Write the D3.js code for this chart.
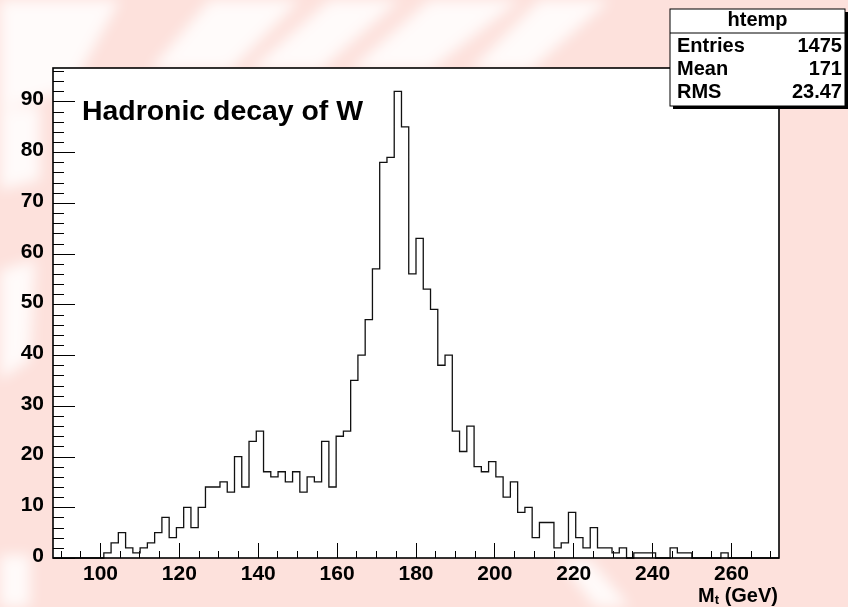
<!doctype html>
<html lang="en">
<head>
  <meta charset="utf-8">
  <title>htemp</title>
<style>
 body{
   margin: 0;
   background-color: #fde1dc;
 }
 svg{
   display: block;
 }
 .axis text{
   font-family: "Liberation Sans", Arial, sans-serif;
   font-weight: bold;
   font-size: 21px;
   fill: #000;
 }
 .axis line{
   stroke: #000;
   stroke-width: 1;
   shape-rendering: crispEdges;
 }
 .bold{
   font-family: "Liberation Sans", Arial, sans-serif;
   font-weight: bold;
   fill: #000;
 }
</style>
</head>
<body>

<div id="chart"></div>

<script src="https://d3js.org/d3.v7.min.js"></script>
<script type="text/javascript">

  // 100 bins of M_t, entries per bin
  var counts = [
    0, 0, 0, 0, 0, 0, 0, 1, 3, 5,
    2, 1, 2, 3, 5, 8, 4, 6, 10, 6,
    10, 14, 14, 15, 13, 20, 14, 23, 25, 17,
    16, 17, 15, 17, 13, 16, 15, 23, 14, 24,
    25, 35, 40, 47, 57, 78, 79, 92, 85, 56,
    63, 53, 49, 38, 40, 25, 21, 26, 18, 17,
    19, 16, 12, 15, 9, 10, 4, 7, 7, 2,
    3, 9, 4, 2, 6, 2, 2, 1, 2, 0,
    1, 1, 1, 0, 0, 2, 1, 1, 0, 0,
    0, 0, 1, 0, 0, 0, 0, 0, 0, 0
  ];
  var xRange = [88.08, 272.17];
  var yRange = [0, 96.6];
  var xMajor = [100, 120, 140, 160, 180, 200, 220, 240, 260];
  var xMinor = d3.range(90, 275, 5);
  var yMajor = [0, 10, 20, 30, 40, 50, 60, 70, 80, 90];
  var yMinor = d3.range(0, 97, 2);
  var statsTitle = 'htemp';
  var statsLabels = ['Entries', 'Mean', 'RMS'];
  var statsValues = ['1475', '171', '23.47'];

  var width = 848;
  var height = 607;
  var frame = { left: 53, right: 779, top: 68, bottom: 558 };

  var svg = d3.select('#chart')
    .append('svg')
    .attr('width', width)
    .attr('height', height);

  // background: pink canvas with soft white streaks
  var defs = svg.append('defs');
  defs.append('filter').attr('id', 'blur')
    .attr('x', '-20%').attr('y', '-20%').attr('width', '140%').attr('height', '140%')
    .append('feGaussianBlur').attr('stdDeviation', 7);

  svg.append('rect')
    .attr('width', width).attr('height', height)
    .attr('fill', '#fde1dc');

  var streaks = [
    [[0, 0], [120, 0], [70, 90], [0, 110]],
    [[210, 0], [300, 0], [230, 70], [150, 70]],
    [[330, 0], [400, 0], [320, 70], [250, 70]],
    [[430, 0], [520, 0], [430, 70], [350, 70]],
    [[540, 0], [610, 0], [530, 70], [470, 70]],
    [[0, 110], [40, 105], [40, 180], [0, 190]],
    [[0, 270], [35, 260], [30, 360], [0, 380]],
    [[0, 555], [30, 555], [30, 607], [0, 607]],
    [[560, 560], [590, 560], [630, 607], [595, 607]]
  ];
  svg.append('g')
    .attr('filter', 'url(#blur)')
    .selectAll('path')
    .data(streaks)
    .enter()
    .append('path')
    .attr('d', function(d){ return 'M' + d.join('L') + 'Z'; })
    .attr('fill', '#ffffff')
    .attr('opacity', 0.85);

  // frame
  svg.append('rect')
    .attr('x', frame.left).attr('y', frame.top)
    .attr('width', frame.right - frame.left)
    .attr('height', frame.bottom - frame.top)
    .attr('fill', '#fff');

  var xscale = d3.scaleLinear()
    .domain(xRange)
    .range([frame.left, frame.right]);

  var yscale = d3.scaleLinear()
    .domain(yRange)
    .range([frame.bottom, frame.top]);

  var tickX = 0.03 * (frame.bottom - frame.top);
  var tickY = 0.03 * (frame.right - frame.left);

  // minor ticks
  svg.append('g')
    .attr('class', 'axis')
    .attr('transform', 'translate(0,' + frame.bottom + ')')
    .call(d3.axisBottom(xscale).tickValues(xMinor).tickSizeInner(-tickX / 2).tickSizeOuter(0).tickFormat(''))
    .call(function(g){ g.select('.domain').remove(); });

  svg.append('g')
    .attr('class', 'axis')
    .attr('transform', 'translate(' + frame.left + ',0)')
    .call(d3.axisLeft(yscale).tickValues(yMinor).tickSizeInner(-tickY / 2).tickSizeOuter(0).tickFormat(''))
    .call(function(g){ g.select('.domain').remove(); });

  // major ticks with labels
  svg.append('g')
    .attr('class', 'axis')
    .attr('transform', 'translate(0,' + frame.bottom + ')')
    .call(d3.axisBottom(xscale).tickValues(xMajor).tickSizeInner(-tickX).tickSizeOuter(0).tickPadding(7))
    .call(function(g){ g.select('.domain').remove(); });

  var yaxis = svg.append('g')
    .attr('class', 'axis')
    .attr('transform', 'translate(' + frame.left + ',0)')
    .call(d3.axisLeft(yscale).tickValues(yMajor).tickSizeInner(-tickY).tickSizeOuter(0).tickPadding(9))
    .call(function(g){ g.select('.domain').remove(); });
  yaxis.selectAll('text').attr('dy', '0.16em');

  // histogram outline
  var binWidth = (xRange[1] - xRange[0]) / counts.length;
  var steps = counts.map(function(c, i){
    return [xRange[0] + i * binWidth, c];
  });
  steps.push([xRange[1], counts[counts.length - 1]]);

  var line = d3.line()
    .x(function(d){ return xscale(d[0]); })
    .y(function(d){ return yscale(d[1]); })
    .curve(d3.curveStepAfter);

  svg.append('path')
    .datum(steps)
    .attr('d', line)
    .attr('fill', 'none')
    .attr('stroke', '#111')
    .attr('stroke-width', 1.3);

  svg.append('rect')
    .attr('x', frame.left).attr('y', frame.top)
    .attr('width', frame.right - frame.left)
    .attr('height', frame.bottom - frame.top)
    .attr('fill', 'none')
    .attr('stroke', '#000')
    .attr('stroke-width', 1.6);

  // title inside the frame
  svg.append('text')
    .attr('class', 'bold')
    .attr('x', 82)
    .attr('y', 120)
    .attr('textLength', 281)
    .attr('lengthAdjust', 'spacingAndGlyphs')
    .style('font-size', '27px')
    .text('Hadronic decay of W');

  // x axis title
  var xt = svg.append('text')
    .attr('class', 'bold')
    .attr('x', frame.right - 1)
    .attr('y', 602)
    .attr('text-anchor', 'end')
    .style('font-size', '20px');
  xt.append('tspan').text('M');
  xt.append('tspan').attr('dy', 2).style('font-size', '13px').text('t');
  xt.append('tspan').attr('dy', -2).text(' (GeV)');

  // stats box
  var box = { x: 670, y: 9, w: 175, h: 97, head: 24 };
  var stats = svg.append('g');
  stats.append('rect')
    .attr('x', box.x + 3).attr('y', box.y + 3)
    .attr('width', box.w).attr('height', box.h)
    .attr('fill', '#000');
  stats.append('rect')
    .attr('x', box.x).attr('y', box.y)
    .attr('width', box.w).attr('height', box.h)
    .attr('fill', '#fff')
    .attr('stroke', '#000')
    .attr('stroke-width', 1);
  stats.append('line')
    .attr('x1', box.x).attr('x2', box.x + box.w)
    .attr('y1', box.y + box.head).attr('y2', box.y + box.head)
    .attr('stroke', '#000');
  stats.append('text')
    .attr('class', 'bold')
    .attr('x', box.x + box.w / 2)
    .attr('y', box.y + 17)
    .attr('text-anchor', 'middle')
    .style('font-size', '20px')
    .text(statsTitle);

  stats.selectAll('text.lab')
    .data(statsLabels)
    .enter()
    .append('text')
    .attr('class', 'bold lab')
    .attr('x', box.x + 7)
    .attr('y', function(d, i){ return box.y + 43 + i * 23; })
    .style('font-size', '20px')
    .text(function(d){ return d; });

  stats.selectAll('text.val')
    .data(statsValues)
    .enter()
    .append('text')
    .attr('class', 'bold val')
    .attr('x', box.x + box.w - 3)
    .attr('y', function(d, i){ return box.y + 43 + i * 23; })
    .attr('text-anchor', 'end')
    .style('font-size', '20px')
    .text(function(d){ return d; });

</script>
</body>
</html>
